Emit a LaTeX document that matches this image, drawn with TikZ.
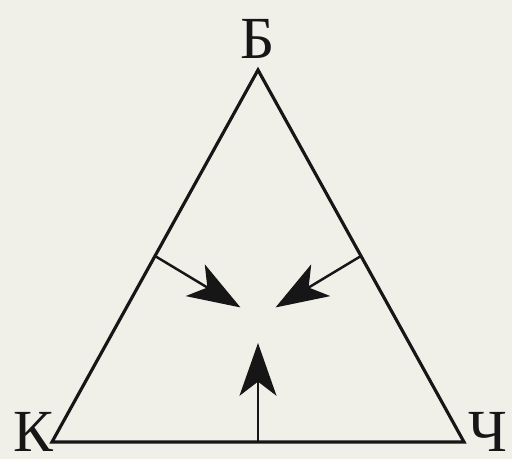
\documentclass[tikz,border=0pt]{standalone}
\usepackage{fontspec}
\setmainfont{Liberation Serif}
\usetikzlibrary{arrows.meta, calc}
\definecolor{paper}{RGB}{240,239,232}
\definecolor{ink}{RGB}{22,22,22}

\begin{document}
\begin{tikzpicture}[x=0.02cm, y=-0.02cm,
  side/.style={draw=ink, line width=1.8pt, line join=miter},
  push/.style={draw=ink, line width=1.4pt, -{Stealth[length=30pt, width=21pt, inset=8pt]}},
  vertex/.style={font=\fontsize{34}{34}\selectfont, text=ink, inner sep=0pt, anchor=base}]
\fill[paper] (0,0) rectangle (512,459);
\useasboundingbox (0,0) rectangle (512,459);
% corners of the triangle
\coordinate (B) at (258,70);
\coordinate (K) at (52,442);
\coordinate (Ch) at (464,442);
\coordinate (mid) at (258,318);
\draw[side] (B) -- (K) -- (Ch) -- cycle;
% feet of the arrows on the sides
\coordinate (BK) at ($(B)!0.5!(K)$);
\coordinate (BCh) at ($(B)!0.5!(Ch)$);
\coordinate (KCh) at ($(K)!0.5!(Ch)$);
\coordinate (tipBK) at ($(BK)!0.83!(mid)$);
\coordinate (tipBCh) at ($(BCh)!0.83!(mid)$);
\coordinate (tipKCh) at (258,343);
\draw[push] (BK) -- (tipBK);
\draw[push] (BCh) -- (tipBCh);
\draw[push] (KCh) -- (tipKCh);
% labels
\node[vertex] (lB) at (258,59) {Б};
\node[vertex] (lK) at (33,452) {К};
\node[vertex] (lCh) at (488,452) {Ч};
\end{tikzpicture}
\end{document}
